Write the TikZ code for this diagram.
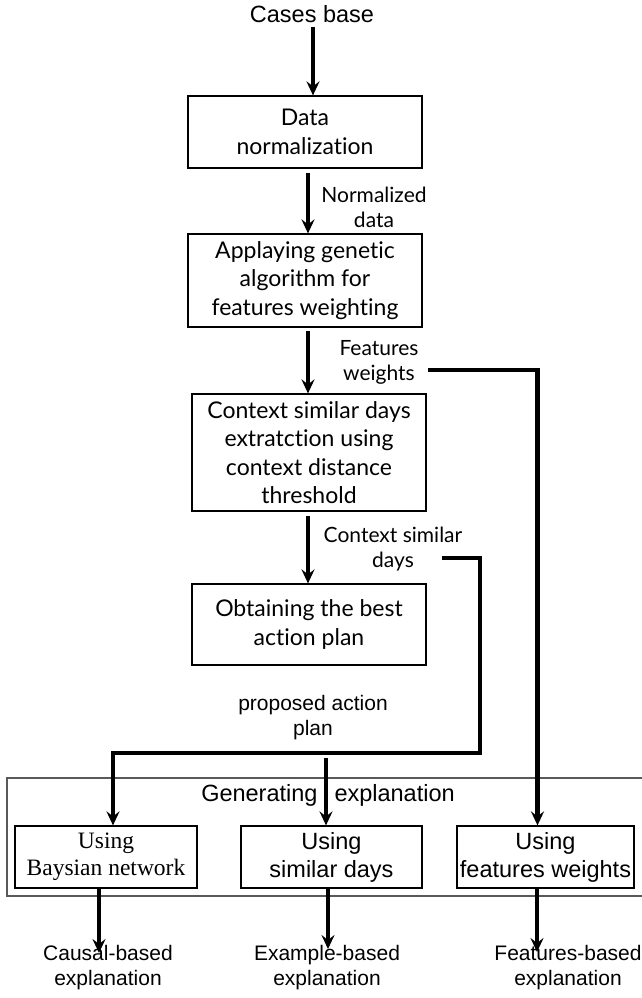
\documentclass[tikz,border=0pt]{standalone}
\usepackage{fontspec}
\setmainfont{Liberation Sans}
\newfontfamily\boxfont{Lato}[Ligatures={NoCommon,NoContextual}]
\newfontfamily\serfont{Liberation Serif}
\usetikzlibrary{arrows.meta}

\tikzset{
	stepbox/.style={draw, line width=1.2pt, align=center, inner sep=0pt, font=\boxfont\fontsize{23}{28.5}\selectfont},
	usebox/.style={draw, line width=1.2pt, align=center, inner sep=0pt, minimum width=181pt, minimum height=62pt, font=\fontsize{23.5}{28}\selectfont},
	flow/.style={line width=4.5pt, -{Stealth[length=14pt,width=13pt,inset=5pt]}},
	lbl/.style={align=center, inner sep=0pt, font=\boxfont\fontsize{21}{25}\selectfont},
	outlbl/.style={align=center, inner sep=0pt, font=\fontsize{21}{25}\selectfont},
}

\begin{document}
\begin{tikzpicture}[x=1pt,y=-1pt]
		\useasboundingbox (0,0) rectangle (641,998);
		
		%Main chain
		\node[inner sep=0pt, font=\fontsize{23.5}{28}\selectfont] (cases) at (312,14) {Cases base};
		\node[stepbox, minimum width=234pt, minimum height=72pt] (norm) at (305,132) {Data\\normalization};
		\node[stepbox, minimum width=234pt, minimum height=93pt] (genetic) at (305,280.5) {Applaying genetic\\algorithm for\\features weighting};
		\node[stepbox, minimum width=234pt, minimum height=117pt] (context) at (309,452.5) {Context similar days\\extratction using\\context distance\\threshold};
		\node[stepbox, minimum width=234pt, minimum height=81pt] (best) at (309,624.5) {Obtaining the best\\action plan};
		
		%Labels on the arrows
		\node[lbl] (normlbl) at (374,207) {Normalized\\data};
		\node[lbl] (fwlbl) at (379,362.5) {Features\\weights};
		\node[lbl] (csdlbl) at (393,549) {Context similar\\days};
		\node[outlbl] (paplbl) at (313,718) {proposed action\\plan};
		
		%Generating explanation
		\node[draw=gray!70!black, line width=1.2pt, minimum width=638pt, minimum height=118pt, inner sep=0pt] (gen) at (326,837) {};
		\node[inner sep=0pt, font=\fontsize{23.5}{28}\selectfont] (gentitle) at (328,795) {Generating\hspace{17pt}explanation};
		\node[usebox, font=\serfont\fontsize{23.5}{27}\selectfont, minimum width=182pt] (bayes) at (106,857) {Using\\Baysian network};
		\node[usebox] (simdays) at (331.5,857) {Using\\similar days};
		\node[usebox, minimum width=177pt] (featw) at (545.5,857) {Using\\features weights};
		
		%Results
		\node[outlbl] (causal) at (108,967.5) {Causal-based\\explanation};
		\node[outlbl] (example) at (327,967.5) {Example-based\\explanation};
		\node[outlbl] (featbased) at (568,967.5) {Features-based\\explanation};
		
		%Free ends of the side lines
		\coordinate (fwstart) at (428,370);
		\coordinate (csdstart) at (442,558);
		\coordinate (csdturn) at (480,753);
		\coordinate (papstart) at (326,758);
		
		%Arrows
		\draw[flow] ([xshift=1pt]cases.south) ++(0,4) -- ([xshift=8pt]norm.north);
		\draw[flow, shorten <=4pt] ([xshift=3pt]norm.south) -- ([xshift=3pt]genetic.north);
		\draw[flow, shorten <=3pt] ([xshift=3pt]genetic.south) -- ([xshift=-1pt]context.north);
		\draw[flow, shorten <=4pt] ([xshift=-1pt]context.south) -- ([xshift=-1pt]best.north);
		\draw[flow] (fwstart) -| ([xshift=-8pt]featw.north);
		\draw[flow] (csdstart) -| (csdturn) -| ([xshift=7pt]bayes.north);
		\draw[flow] (papstart) -- (papstart |- simdays.north);
		\draw[flow, shorten >=-8pt] ([xshift=-7pt]bayes.south) -- ([xshift=-9pt]causal.north);
		\draw[flow, shorten >=-4pt] ([xshift=-3.5pt]simdays.south) -- ([xshift=1pt]example.north);
		\draw[flow, shorten >=-7pt] ([xshift=-8.5pt]featw.south) -- ([xshift=-31pt]featbased.north);
		
	\end{tikzpicture}
\end{document}
